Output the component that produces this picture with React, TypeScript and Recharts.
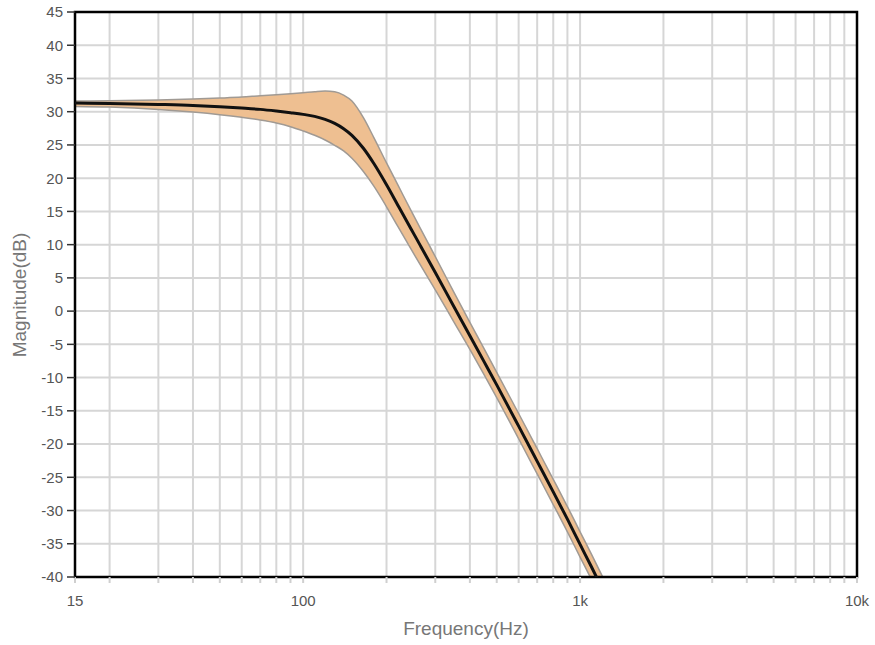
import { Area, CartesianGrid, ComposedChart, Label, Line, ReferenceArea, XAxis, YAxis } from "recharts";

// frequency points (Hz)
const freqs = [
  15, 20, 30, 40, 50, 60, 70, 80, 90, 100, 110, 120, 130, 140, 150, 165, 180, 200, 220, 245, 265,
  300, 350, 400, 450, 500, 600, 700, 800, 900, 1000, 1100, 1200, 1300,
];

// nominal response (dB)
const magnitude = [
  31.3, 31.25, 31.1, 30.95, 30.75, 30.55, 30.35, 30.1, 29.85, 29.6, 29.3, 28.85, 28.25, 27.45, 26.45,
  24.5, 22.2, 19.0, 15.9, 12.4, 9.85, 5.8, 0.7, -3.7, -7.6, -11.1, -17.3, -22.6, -27.2, -31.3, -35.1,
  -38.5, -41.7, -44.7,
];

// tolerance band
const upperBound = [
  31.6, 31.65, 31.75, 31.9, 32.05, 32.2, 32.4, 32.55, 32.7, 32.85, 33.0, 33.1, 33.0, 32.5, 31.6, 29.1,
  26.1, 22.3, 18.95, 15.15, 12.45, 8.2, 2.85, -1.7, -5.65, -9.2, -15.4, -20.7, -25.3, -29.4, -33.2,
  -36.6, -39.8, -42.8,
];
const lowerBound = [
  30.8, 30.7, 30.35, 29.95, 29.55, 29.15, 28.75, 28.3, 27.75, 27.1, 26.45, 25.75, 24.95, 24.1, 23.0,
  21.0, 18.8, 15.7, 12.7, 9.35, 6.95, 3.2, -1.6, -5.75, -9.55, -13.0, -19.2, -24.5, -29.1, -33.2, -37.0,
  -40.4, -43.6, -46.6,
];

const yTicks = [-40, -35, -30, -25, -20, -15, -10, -5, 0, 5, 10, 15, 20, 25, 30, 35, 40, 45];
const xTicks = [
  15, 20, 30, 40, 50, 60, 70, 80, 90, 100, 200, 300, 400, 500, 600, 700, 800, 900, 1000, 2000, 3000,
  4000, 5000, 6000, 7000, 8000, 9000, 10000,
];
const xTickLabels: Record<number, string> = { 15: "15", 100: "100", 1000: "1k", 10000: "10k" };

const data = freqs.map((f, i) => ({
  f,
  mag: magnitude[i],
  band: [lowerBound[i], upperBound[i]],
}));

const font = "'Liberation Sans', Arial, sans-serif";

export default function App() {
  return (
    <div style={{ position: "absolute", left: 0, top: 0, fontFamily: font }}>
      <ComposedChart width={875} height={645} data={data} margin={{ top: 12, right: 18, bottom: 18, left: 5 }}>
        <CartesianGrid stroke="#d6d6d6" strokeWidth={2} />
        <XAxis
          dataKey="f"
          type="number"
          scale="log"
          domain={[15, 10000]}
          allowDataOverflow
          ticks={xTicks}
          interval={0}
          tickFormatter={(v: number) => xTickLabels[v] ?? ""}
          height={50}
          axisLine={false}
          tickLine={{ stroke: "#cfcfcf", strokeWidth: 2 }}
          tickSize={6}
          tickMargin={12}
          tick={{ fill: "#555", fontSize: 15, fontFamily: font }}
        >
          <Label
            content={() => (
              <text x={466} y={635} textAnchor="middle" fill="#777" fontSize={19} fontFamily={font}>
                Frequency(Hz)
              </text>
            )}
          />
        </XAxis>
        <YAxis
          type="number"
          domain={[-40, 45]}
          allowDataOverflow
          ticks={yTicks}
          interval={0}
          width={70}
          axisLine={false}
          tickLine={{ stroke: "#333", strokeWidth: 1.5 }}
          tickSize={8}
          tickMargin={4}
          tick={{ fill: "#555", fontSize: 15, fontFamily: font }}
        >
          <Label
            content={() => (
              <text
                x={26}
                y={295}
                transform="rotate(-90 26 295)"
                textAnchor="middle"
                fill="#777"
                fontSize={19}
                fontFamily={font}
              >
                Magnitude(dB)
              </text>
            )}
          />
        </YAxis>
        <Area
          type="monotone"
          dataKey="band"
          fill="#eebf91"
          fillOpacity={1}
          stroke="#a09a94"
          strokeWidth={1.5}
          dot={false}
          activeDot={false}
          isAnimationActive={false}
        />
        <Line
          type="monotone"
          dataKey="mag"
          stroke="#111"
          strokeWidth={3}
          dot={false}
          activeDot={false}
          isAnimationActive={false}
        />
        <ReferenceArea x1={15} x2={10000} y1={-40} y2={45} fill="none" stroke="#000" strokeWidth={2.5} ifOverflow="visible" />
      </ComposedChart>
    </div>
  );
}
